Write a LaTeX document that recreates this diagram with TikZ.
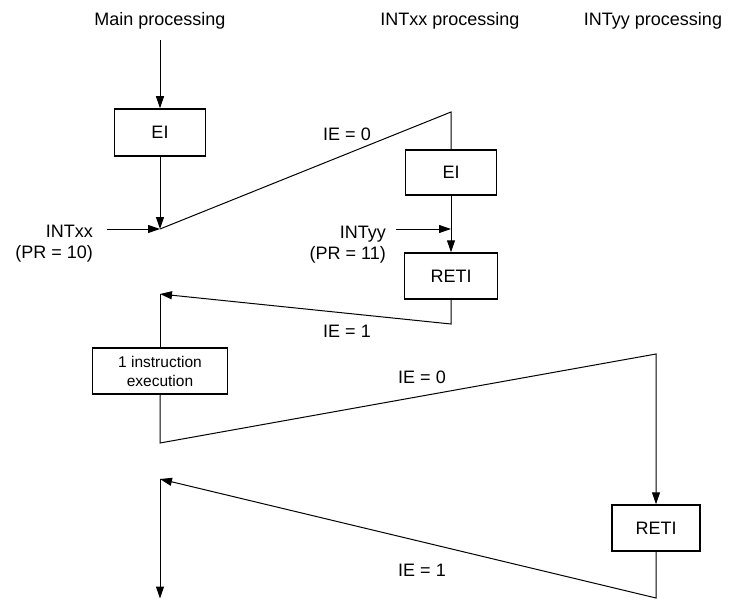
\documentclass[tikz,border=0pt]{standalone}
\usepackage{fontspec}
\setmainfont{Liberation Sans}
\usetikzlibrary{arrows.meta}
\begin{document}
\begin{tikzpicture}[x=1pt,y=-1pt,
  box/.style={draw,line width=1.5pt,inner sep=0pt,align=center,font=\fontsize{18}{21}\selectfont},
  arr/.style={-{Triangle[length=12pt,width=8pt]}},
  conn/.style={line width=1pt},
  lbl/.style={inner sep=0pt,font=\fontsize{18}{21}\selectfont}]
\useasboundingbox (0,0) rectangle (730,599);
% titles
\node[lbl,anchor=base] (t1) at (160,26) {Main processing};
\node[lbl,anchor=base] (t2) at (450,26) {INTxx processing};
\node[lbl,anchor=base] (t3) at (653,26) {INTyy processing};
% nodes
\coordinate (top) at (160,40);
\node[box,minimum width=91pt,minimum height=47pt] (ei1) at (160,132.5) {EI};
\coordinate (c1) at (160,229);
\coordinate (xxs) at (107,229);
\coordinate (c2) at (451,112);
\node[box,minimum width=91pt,minimum height=45pt] (ei2) at (451,172.5) {EI};
\node[box,minimum width=93pt,minimum height=46pt] (reti1) at (451,276) {RETI};
\coordinate (yy) at (451,229);
\coordinate (yys) at (396,229);
\coordinate (c3) at (451,324);
\coordinate (c4) at (160,294);
\node[box,minimum width=135pt,minimum height=46pt,font=\fontsize{15.5}{19}\selectfont] (ins) at (160,371) {1 instruction\\execution};
\coordinate (c5) at (160,443);
\coordinate (c6) at (656,354);
\node[box,minimum width=88pt,minimum height=46pt] (reti2) at (656,528) {RETI};
\coordinate (c7) at (656,598);
\coordinate (c8) at (160,479);
\coordinate (bot) at (160,598.5);
% connectors
\draw[conn,arr] (top) -- (ei1);
\draw[conn,arr] (ei1) -- (c1);
\draw[conn,arr] (xxs) -- (c1);
\draw[conn] (c1) -- (c2) -- (ei2);
\draw[conn,arr] (ei2) -- (reti1);
\draw[conn,arr] (yys) -- (yy);
\draw[conn,arr] (reti1) -- (c3) -- (c4);
\draw[conn] (c4) -- (ins);
\draw[conn,arr] (ins) -- (c5) -- (c6) -- (reti2);
\draw[conn,arr] (reti2) -- (c7) -- (c8);
\draw[conn,arr] (c8) -- (bot);
% labels
\node[lbl,anchor=base east,align=right] (lxx) at (93,258) {INTxx\\(PR = 10)};
\node[lbl,anchor=base east,align=right] (lyy) at (386,259) {INTyy\\(PR = 11)};
\node[lbl,anchor=base] (ie1) at (347,140) {IE = 0};
\node[lbl,anchor=base] (ie2) at (347,337) {IE = 1};
\node[lbl,anchor=base] (ie3) at (422,383) {IE = 0};
\node[lbl,anchor=base] (ie4) at (422,576) {IE = 1};
\end{tikzpicture}
\end{document}
